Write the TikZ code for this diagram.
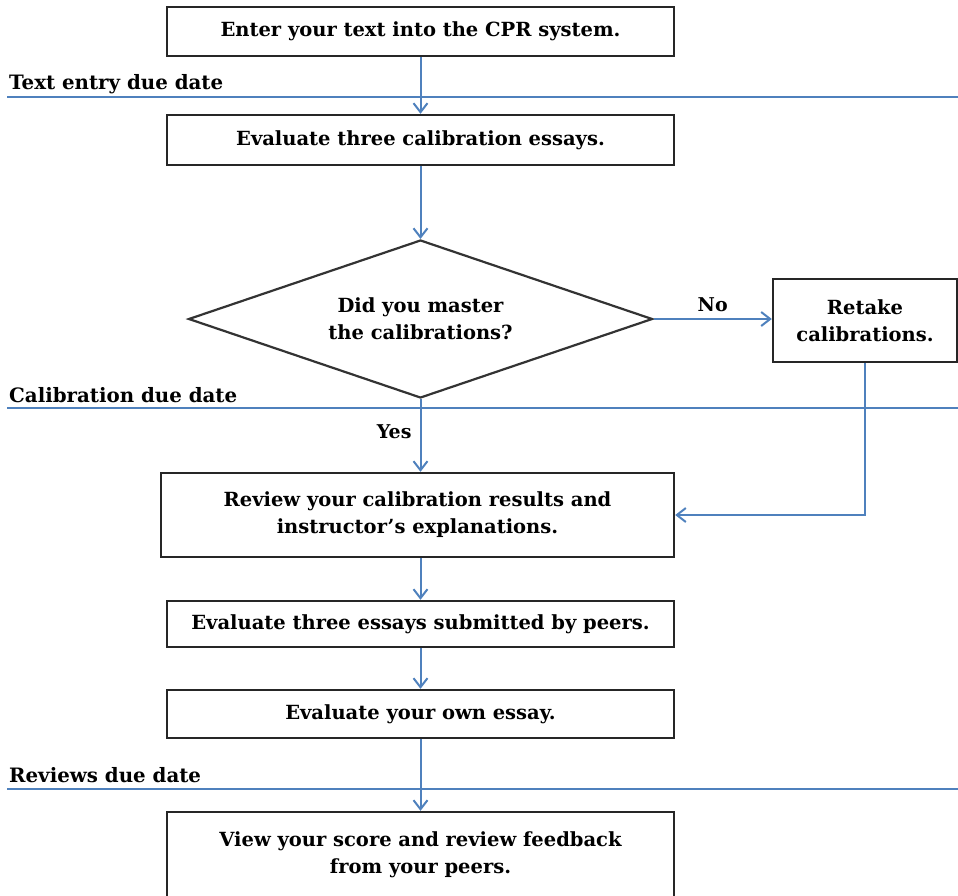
\documentclass[tikz,border=0pt]{standalone}
\usepackage{fontspec}
\setmainfont{DejaVu Serif}
\usetikzlibrary{shapes.geometric,arrows.meta}
\definecolor{lineblue}{RGB}{79,129,189}
\tikzset{
  stepbox/.style={draw=black!85, line width=2.4pt, fill=white, align=center, inner sep=0pt, font=\bfseries\fontsize{19.5}{27}\selectfont},
  decision/.style={diamond, draw=black!80, line width=2.2pt, align=center, inner sep=0pt, aspect=2.94, minimum width=464pt, minimum height=158pt, font=\bfseries\fontsize{19.5}{27}\selectfont},
  flow/.style={draw=lineblue, line width=2pt, -{Straight Barb[length=9pt,width=14pt,line width=2pt]}},
  dueline/.style={draw=lineblue, line width=2.8pt},
  duelabel/.style={anchor=base west, inner sep=0pt, font=\bfseries\fontsize{19.8}{22}\selectfont},
  lbl/.style={inner sep=0pt, font=\bfseries\fontsize{19}{22}\selectfont}
}
\begin{document}
\begin{tikzpicture}[x=1pt,y=-1pt]
\useasboundingbox (0,0) rectangle (958,895);
% boxes
\node[stepbox, minimum width=507pt, minimum height=49pt] (b1) at (420.5,31.5) {Enter your text into the CPR system.};
\node[stepbox, minimum width=507pt, minimum height=50pt] (b2) at (420.5,140) {Evaluate three calibration essays.};
\node[decision] (d) at (420.5,319) {Did you master\\the calibrations?};
\node[stepbox, minimum width=184pt, minimum height=83pt] (r) at (865,320.5) {Retake\\calibrations.};
\node[stepbox, minimum width=513pt, minimum height=84pt] (b3) at (417.5,515) {Review your calibration results and\\instructor's explanations.};
\node[stepbox, minimum width=507pt, minimum height=46pt] (b4) at (420.5,624) {Evaluate three essays submitted by peers.};
\node[stepbox, minimum width=507pt, minimum height=48pt] (b5) at (420.5,714) {Evaluate your own essay.};
\node[stepbox, minimum width=507pt, minimum height=86pt] (b6) at (420.5,855) {View your score and review feedback\\from your peers.};
% due date lines
\coordinate (l1a) at (7,97); \coordinate (l1b) at (958,97);
\coordinate (l2a) at (7,408); \coordinate (l2b) at (958,408);
\coordinate (l3a) at (7,789); \coordinate (l3b) at (958,789);
\draw[dueline] (l1a) -- (l1b);
\draw[dueline] (l2a) -- (l2b);
\draw[dueline] (l3a) -- (l3b);
\node[duelabel] (t1) at (9,89) {Text entry due date};
\node[duelabel] (t2) at (9,402) {Calibration due date};
\node[duelabel] (t3) at (9,782) {Reviews due date};
% connectors
\draw[flow] (b1.south -| b2.north) -- (b2.north);
\draw[flow] (b2.south) -- (d.north);
\draw[flow] (d.east) -- node[lbl, above=6pt] (no) {No} (d.east -| r.west);
\draw[flow] (d.south) -- node[lbl, left=8pt, pos=0.45] (yes) {Yes} (d.south |- b3.north);
\coordinate (rc) at (r.south |- b3.east);
\draw[flow] (r.south) -- (rc) -- (b3.east);
\draw[flow] (b3.south -| b4.north) -- (b4.north);
\draw[flow] (b4.south) -- (b5.north);
\draw[flow] (b5.south) -- (b6.north);
\end{tikzpicture}
\end{document}
